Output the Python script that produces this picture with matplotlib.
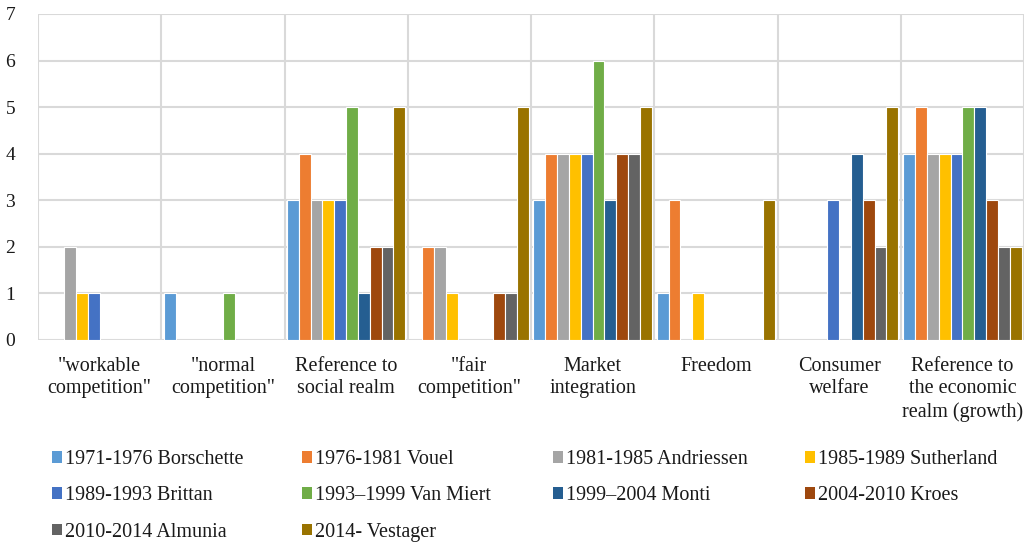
import numpy as np
import matplotlib.pyplot as plt
from matplotlib.patches import Patch

## Data
categories = ['"workable\ncompetition"', '"normal\ncompetition"', 'Reference to\nsocial realm',
              '"fair\ncompetition"', 'Market\nintegration', 'Freedom', 'Consumer\nwelfare',
              'Reference to\nthe economic\nrealm (growth)']
series_names = ["1971-1976 Borschette", "1976-1981 Vouel", "1981-1985 Andriessen", "1985-1989 Sutherland",
                "1989-1993 Brittan", "1993\u20131999 Van Miert", "1999\u20132004 Monti", "2004-2010 Kroes",
                "2010-2014 Almunia", "2014- Vestager"]
borschette = [0, 1, 3, 0, 3, 1, 0, 4]
vouel      = [0, 0, 4, 2, 4, 3, 0, 5]
andriessen = [2, 0, 3, 2, 4, 0, 0, 4]
sutherland = [1, 0, 3, 1, 4, 1, 0, 4]
brittan    = [1, 0, 3, 0, 4, 0, 3, 4]
van_miert  = [0, 1, 5, 0, 6, 0, 0, 5]
monti      = [0, 0, 1, 0, 3, 0, 4, 5]
kroes      = [0, 0, 2, 1, 4, 0, 3, 3]
almunia    = [0, 0, 2, 1, 4, 0, 2, 2]
vestager   = [0, 0, 5, 5, 5, 3, 5, 2]
values = [borschette, vouel, andriessen, sutherland, brittan, van_miert, monti, kroes, almunia, vestager]
colors = ["#5B9BD5", "#ED7D31", "#A5A5A5", "#FFC000", "#4472C4",
          "#70AD47", "#255E91", "#9E480E", "#636363", "#997300"]

plt.rcParams['font.family'] = ['Liberation Serif', 'DejaVu Serif']
grid_col = "#d9d9d9"
txt_col = "#1a1a1a"

fig = plt.figure(figsize=(10.28, 5.42), dpi=100)
ax = fig.add_axes([38/1028, 1-340/542, 986/1028, 326/542])

n = len(values)
step = 0.096
x = np.arange(len(categories))
for i, (vals, c) in enumerate(zip(values, colors)):
    ax.bar(x + (i - (n-1)/2)*step, vals, width=step, color=c, edgecolor="white", linewidth=0.8,
           label=series_names[i], zorder=3)

ax.set_xlim(-0.5, len(categories) - 0.5)
ax.set_ylim(0, 7)
ax.set_yticks(range(0, 8))
ax.set_xticks(x)
ax.set_xticklabels(categories, fontsize=14.5, color=txt_col, linespacing=1.26)
ax.tick_params(axis='y', length=0, pad=20, labelsize=14, labelcolor=txt_col)
ax.tick_params(axis='x', length=0, pad=12)
for t in ax.get_yticklabels():
    t.set_horizontalalignment('center')

# gridlines: horizontal at each unit, vertical at category boundaries
for yv in range(0, 8):
    ax.axhline(yv, color=grid_col, lw=1.5, zorder=1)
for xb in np.arange(-0.5, len(categories), 1):
    ax.axvline(xb, color=grid_col, lw=1.5, zorder=1)
for s in ax.spines.values():
    s.set_visible(False)

## Legend, one per column so columns are evenly spaced
handles = [Patch(facecolor=c, edgecolor="none") for c in colors]
col_x = [52/1028, 302/1028, 553/1028, 805/1028]
for j in range(4):
    fig.legend(handles[j::4], series_names[j::4], loc="upper left",
               bbox_to_anchor=(col_x[j], 1-450/542), frameon=False, fontsize=14.5,
               handlelength=0.5, handleheight=0.5, handletextpad=0.15,
               labelspacing=0.86, borderaxespad=0, borderpad=0, labelcolor=txt_col)

fig.savefig("out.png", dpi=100)
